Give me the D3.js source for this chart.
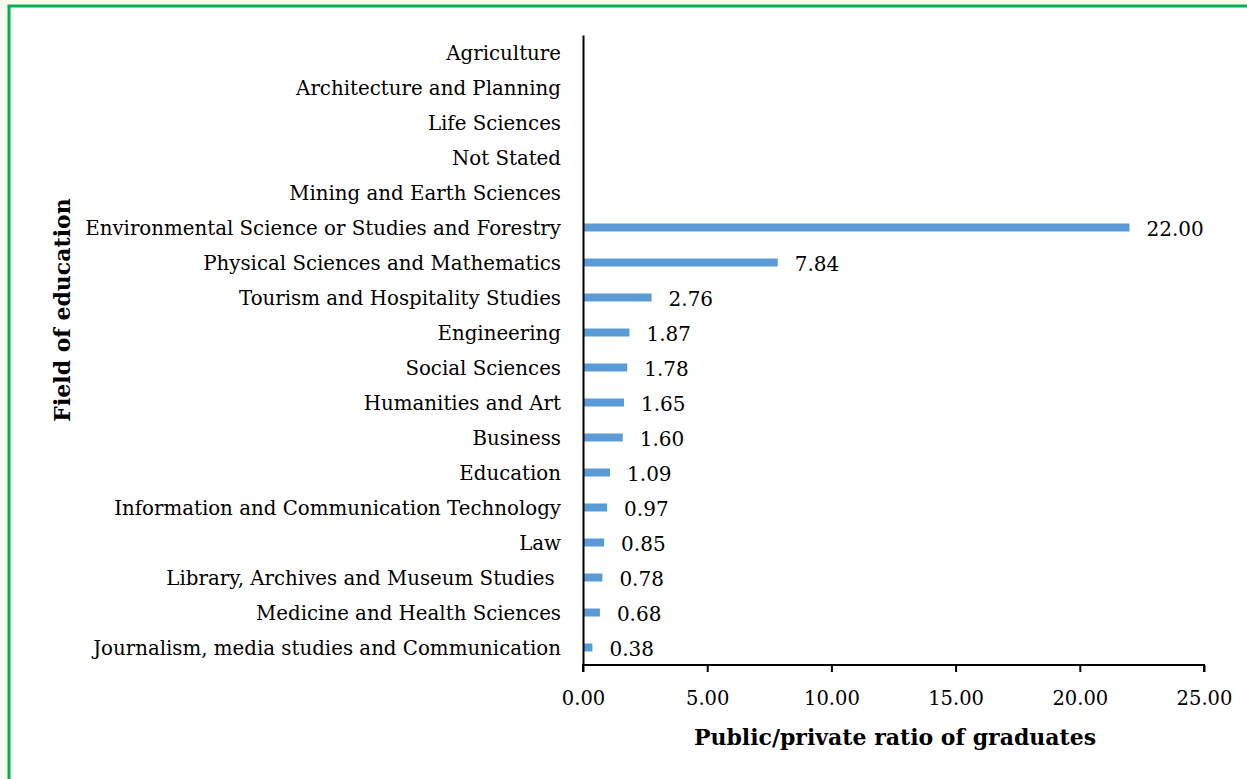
<!DOCTYPE html>
<html>
<head>
<meta charset="utf-8">
<script src="https://cdn.jsdelivr.net/npm/d3@7"></script>
<style>
  html, body { margin: 0; padding: 0; background: #fafbef; }
  .chart { position: relative; width: 1247px; height: 779px; }
  text { font-family: "DejaVu Serif", serif; fill: #000; }
</style>
</head>
<body>
<div class="chart"></div>
<script>
// Categories, top to bottom as drawn
var fields = [
    "Agriculture",
    "Architecture and Planning",
    "Life Sciences",
    "Not Stated",
    "Mining and Earth Sciences",
    "Environmental Science or Studies and Forestry",
    "Physical Sciences and Mathematics",
    "Tourism and Hospitality Studies",
    "Engineering",
    "Social Sciences",
    "Humanities and Art",
    "Business",
    "Education",
    "Information and Communication Technology",
    "Law",
    "Library, Archives and Museum Studies ",
    "Medicine and Health Sciences",
    "Journalism, media studies and Communication"
];
// Public/private ratio (null = no value shown)
var ratios = [null, null, null, null, null, 22.00, 7.84, 2.76, 1.87, 1.78, 1.65, 1.60, 1.09, 0.97, 0.85, 0.78, 0.68, 0.38];
var xTicks = [0, 5, 10, 15, 20, 25];

var svgWidth = 1247;
var svgHeight = 779;
var margin = { top: 35, bottom: 114, left: 583, right: 43 };
var width = svgWidth - margin.left - margin.right;
var height = svgHeight - margin.top - margin.bottom;

var svg = d3.select(".chart")
            .append("svg")
            .attr("width", svgWidth)
            .attr("height", svgHeight);

// white panel with green frame on top/left
svg.append("rect")
   .attr("x", 9).attr("y", 6)
   .attr("width", svgWidth - 9).attr("height", svgHeight - 6)
   .attr("fill", "#fff");
svg.append("path")
   .attr("d", `M9,${svgHeight} L9,6 L${svgWidth},6`)
   .attr("fill", "none")
   .attr("stroke", "#00b050")
   .attr("stroke-width", 3);

var chartGroup = svg.append("g")
                    .attr("transform", `translate(${margin.left}, ${margin.top})`);

var data = fields.map((f, i) => ({ field: f, value: ratios[i] }));

var xScale = d3.scaleLinear().domain([0, 25]).range([0, width]);
var yScale = d3.scaleBand().domain(fields).range([0, height]);

// bars
chartGroup.selectAll("rect.bar")
          .data(data.filter(d => d.value !== null))
          .enter()
          .append("rect")
          .attr("class", "bar")
          .attr("x", 1)
          .attr("y", d => yScale(d.field) + yScale.bandwidth() / 2 - 4)
          .attr("width", d => xScale(d.value) - 1)
          .attr("height", 8)
          .attr("fill", "#5b9bd5");

// value labels
chartGroup.selectAll("text.val")
          .data(data.filter(d => d.value !== null))
          .enter()
          .append("text")
          .attr("class", "val")
          .attr("x", d => xScale(d.value) + 17)
          .attr("y", d => yScale(d.field) + yScale.bandwidth() / 2 + 1)
          .attr("dy", "0.36em")
          .style("font-size", "20px")
          .text(d => d.value.toFixed(2));

// x axis
var bottomAxis = d3.axisBottom(xScale)
                   .tickValues(xTicks)
                   .tickSize(7)
                   .tickPadding(19)
                   .tickFormat(d => d.toFixed(2));
var xAxisG = chartGroup.append("g")
                       .attr("transform", `translate(0, ${height})`)
                       .call(bottomAxis);
xAxisG.select(".domain").attr("stroke", "#000").attr("stroke-width", 2)
      .attr("d", `M0,7V0H${width}V7`);
xAxisG.selectAll(".tick line").attr("stroke", "#000").attr("stroke-width", 2);
xAxisG.selectAll(".tick text")
      .style("font-family", "DejaVu Serif, serif")
      .style("font-size", "19.5px")
      .attr("fill", "#000");

// y axis
var leftAxis = d3.axisLeft(yScale).tickSize(0).tickPadding(22);
var yAxisG = chartGroup.append("g").call(leftAxis);
yAxisG.select(".domain").attr("stroke", "#000").attr("stroke-width", 2);
yAxisG.selectAll(".tick text")
      .attr("dy", "0.4em")
      .style("white-space", "pre")
      .style("font-family", "DejaVu Serif, serif")
      .style("font-size", "19.8px")
      .attr("fill", "#000");

// axis titles
svg.append("text")
   .attr("x", 895)
   .attr("y", 745)
   .attr("text-anchor", "middle")
   .style("font-size", "22px")
   .style("font-weight", "bold")
   .text("Public/private ratio of graduates");

svg.append("text")
   .attr("transform", "translate(70, 310) rotate(-90)")
   .attr("text-anchor", "middle")
   .style("font-size", "22px")
   .style("font-weight", "bold")
   .text("Field of education");
</script>
</body>
</html>
